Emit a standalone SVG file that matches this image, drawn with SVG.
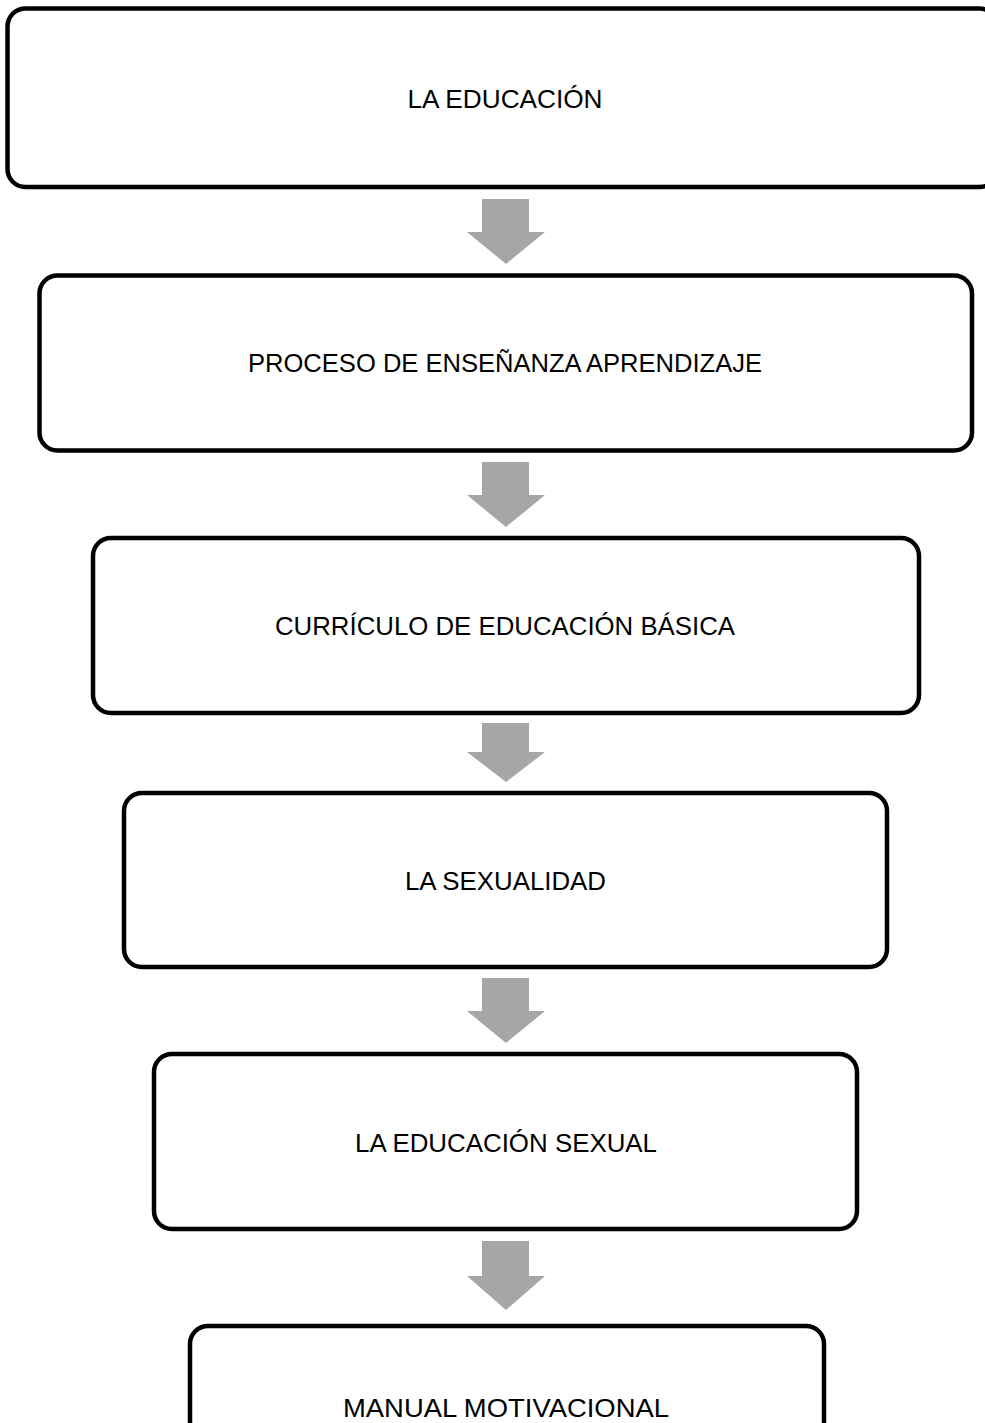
<svg xmlns="http://www.w3.org/2000/svg" width="985" height="1423" viewBox="0 0 985 1423">
<style>
.box{fill:#fff;stroke:#000;stroke-width:4.5}
.lbl{font-family:"Liberation Sans",Arial,sans-serif;font-size:25px;fill:#000;text-anchor:middle}
.arr{fill:#a6a6a6}
</style>
<rect width="985" height="1423" fill="#fff"/>
<g id="connectors">
<polygon class="arr" points="482,199 529,199 529,232 545,232 506,264 467,232 482,232"/>
<polygon class="arr" points="482,462 529,462 529,495 545,495 506,527 467,495 482,495"/>
<polygon class="arr" points="482,723 529,723 529,752 545,752 506,782 467,752 482,752"/>
<polygon class="arr" points="482,978 529,978 529,1011 545,1011 506,1043 467,1011 482,1011"/>
<polygon class="arr" points="482,1241 529,1241 529,1276 545,1276 506,1310 467,1276 482,1276"/>
</g>
<g id="n1"><rect class="box" x="7.5" y="8.5" width="990" height="178.5" rx="18"/><text class="lbl" x="505" y="108" textLength="195" lengthAdjust="spacingAndGlyphs">LA EDUCACIÓN</text></g>
<g id="n2"><rect class="box" x="39.5" y="275.5" width="932.5" height="175" rx="18"/><text class="lbl" x="505" y="372" textLength="514" lengthAdjust="spacingAndGlyphs">PROCESO DE ENSEÑANZA APRENDIZAJE</text></g>
<g id="n3"><rect class="box" x="93" y="538" width="826" height="175" rx="18"/><text class="lbl" x="505" y="635" textLength="460" lengthAdjust="spacingAndGlyphs">CURRÍCULO DE EDUCACIÓN BÁSICA</text></g>
<g id="n4"><rect class="box" x="124" y="793" width="763" height="174" rx="18"/><text class="lbl" x="505.5" y="890" textLength="201" lengthAdjust="spacingAndGlyphs">LA SEXUALIDAD</text></g>
<g id="n5"><rect class="box" x="154" y="1054" width="703" height="175" rx="18"/><text class="lbl" x="506" y="1152" textLength="302" lengthAdjust="spacingAndGlyphs">LA EDUCACIÓN SEXUAL</text></g>
<g id="n6"><rect class="box" x="190" y="1326" width="634" height="180" rx="18"/><text class="lbl" x="506" y="1417" textLength="326" lengthAdjust="spacingAndGlyphs">MANUAL MOTIVACIONAL</text></g>
</svg>
